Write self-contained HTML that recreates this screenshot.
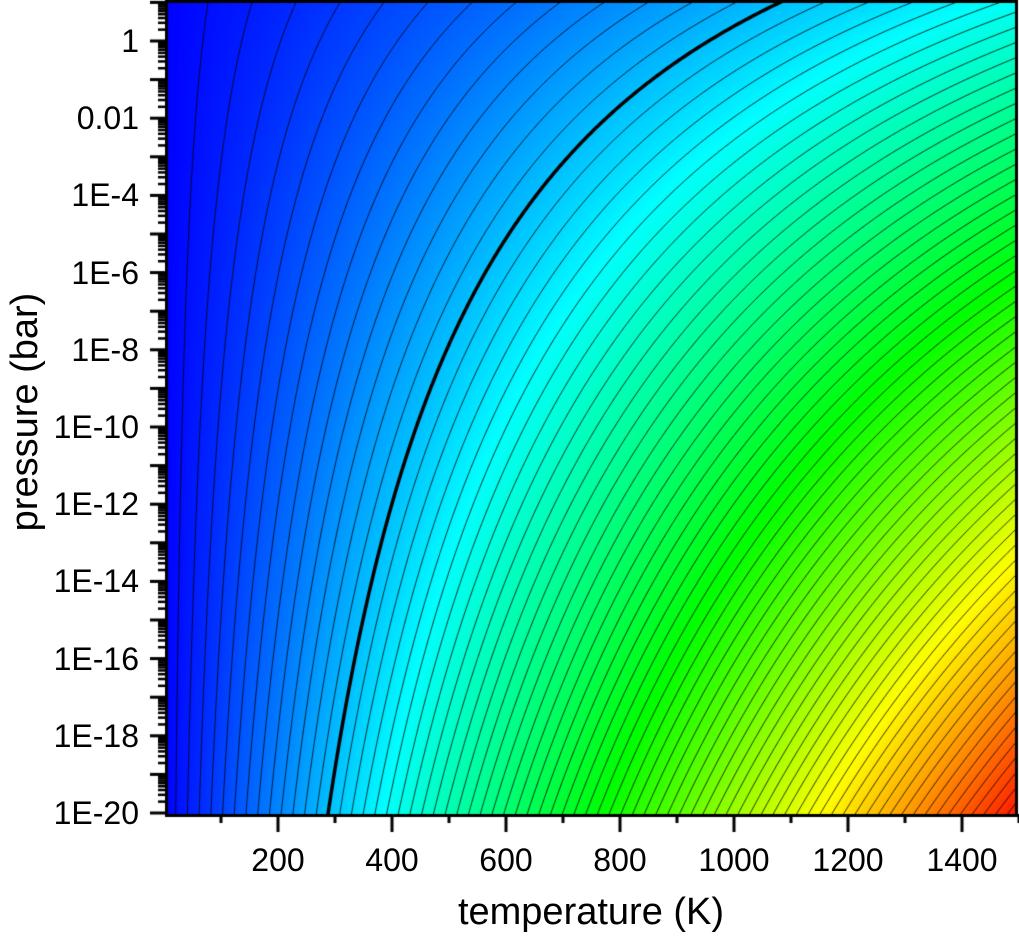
<!DOCTYPE html>
<html><head><meta charset="utf-8"><style>
html,body{margin:0;padding:0;background:#fff;width:1019px;height:940px;overflow:hidden}
canvas{position:absolute;left:0;top:0}
.t{position:absolute;font-family:"Liberation Sans",Arial,sans-serif;color:#000;white-space:nowrap}
</style></head><body>
<canvas id="c" width="1019" height="940"></canvas>
<div class="t" style="left:0;top:0;width:1019px;height:940px" id="lab"></div>
<script>
const c=document.getElementById('c'),g=c.getContext('2d');
const L=167,R=1016,T=3,Bm=814;
const X=t=>164+t*0.57, Tof=x=>(x-164)/0.57;
const Y=lp=>41-38.6*lp, LPof=y=>(41-y)/38.6;
const A=8.63, VMAX=44000;
function col(B){let v=Math.max(0,Math.min(1,B/VMAX));let r,gg,b;
if(v<.25){r=0;gg=v*4*255;b=255}else if(v<.5){r=0;gg=255;b=255*(1-(v-.25)*4)}
else if(v<.75){r=255*(v-.5)*4;gg=255;b=0}else{r=255;gg=255*(1-(v-.75)*4);b=0}
return [r,gg,b];}
const img=g.createImageData(R-L,Bm-T);
for(let y=T;y<Bm;y++){const lp=LPof(y+.5);for(let x=L;x<R;x++){const t=Tof(x+.5);const B=t*(A-lp);const k=col(B);const i=((y-T)*(R-L)+(x-L))*4;img.data[i]=k[0];img.data[i+1]=k[1];img.data[i+2]=k[2];img.data[i+3]=255;}}
g.putImageData(img,L,T);
g.save();g.beginPath();g.rect(L,T,R-L,Bm-T);g.clip();
const dB=589;
for(let k=1;k<80;k++){const B=k*dB;g.beginPath();let first=true;
for(let lp=-20.2;lp<=1.2;lp+=0.05){const t=B/(A-lp);const x=X(t),y=Y(lp);if(first){g.moveTo(x,y);first=false}else g.lineTo(x,y);}
if(k==14){g.lineWidth=3.5;g.strokeStyle='#000'}else{g.lineWidth=0.9;g.strokeStyle='rgba(0,0,0,0.9)'}
g.stroke();}
g.restore();
g.strokeStyle='#000';g.lineWidth=3;g.strokeRect(L-0.5,T-1.5,R-L+1,Bm-T+3);
g.fillStyle='#000';
for(let d=-20;d<=1;d++){let y=Y(d);g.fillRect(L-17,y-1.5,17,3);
for(let m=2;m<10;m++){let yy=Y(d+Math.log10(m));if(yy<T)continue;g.fillRect(L-9,yy-1,9,2.5);}}
for(let t=100;t<=1500;t+=100){const x=X(t);const len=(t%200==0)?18:9;g.fillRect(x-1.5,Bm,3,len);}
const lab=document.getElementById('lab');let h='';
const yl=['1','0.01','1E-4','1E-6','1E-8','1E-10','1E-12','1E-14','1E-16','1E-18','1E-20'];
yl.forEach((s,i)=>{const y=Y(-2*i);h+=`<div class="t" style="right:${1019-139}px;top:${y-18}px;font-size:32px;line-height:36px">${s}</div>`});
for(let t=200;t<=1400;t+=200){h+=`<div class="t" style="left:${X(t)-50}px;width:100px;text-align:center;top:842px;font-size:32px;line-height:36px">${t}</div>`}
h+=`<div class="t" style="left:391px;width:400px;text-align:center;top:890px;font-size:38px;line-height:44px">temperature (K)</div>`;
h+=`<div class="t" style="left:-175px;top:390px;width:400px;text-align:center;font-size:38px;line-height:44px;transform:rotate(-90deg)">pressure (bar)</div>`;
lab.innerHTML=h;
</script>
</body></html>
